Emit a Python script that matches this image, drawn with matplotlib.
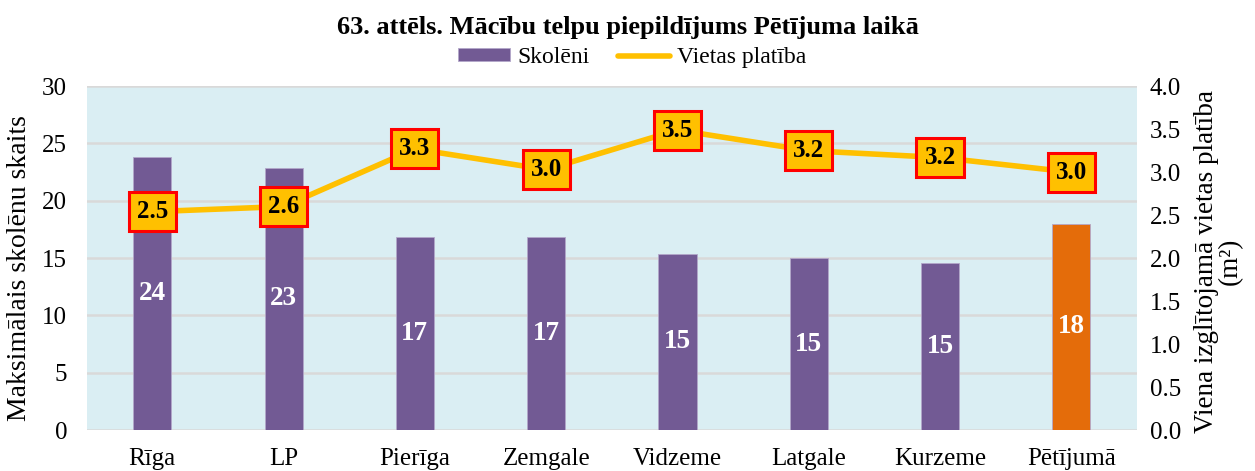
import matplotlib.pyplot as plt
import numpy as np

plt.rcParams["font.family"] = ["Liberation Serif", "DejaVu Serif"]

regioni = ["Rīga", "LP", "Pierīga", "Zemgale", "Vidzeme", "Latgale", "Kurzeme", "Pētījumā"]
skoleni = [23.8, 22.9, 16.8, 16.8, 15.4, 15.0, 14.6, 18.0]
platiba = [2.54, 2.6, 3.27, 3.03, 3.49, 3.25, 3.17, 3.0]

violets = "#725A94"
oranzs = "#E46C0A"
dzeltens = "#FFC000"

fig, ax = plt.subplots(figsize=(12.55, 4.71), dpi=100)
fig.subplots_adjust(left=0.069, right=0.906, top=0.817, bottom=0.087)

x = np.arange(len(regioni))
krasas = [violets] * (len(regioni) - 1) + [oranzs]
stabi = ax.bar(x, skoleni, width=0.29, color=krasas, edgecolor="#B3A7C9",
               linewidth=0.6, zorder=3, label="Skolēni")

# skolēnu skaits stabiņa vidū
for xi, v in zip(x, skoleni):
    ax.text(xi, v / 2, f"{v:.0f}", ha="center", va="center", color="white",
            fontsize=19.5, fontweight="bold", zorder=4)

ax.set_facecolor("#DAEEF3")
ax.set_xlim(-0.5, len(regioni) - 0.5)
ax.set_ylim(0, 30)
ax.set_yticks(range(0, 31, 5))
ax.set_xticks(x)
ax.set_xticklabels(regioni, fontsize=18)
ax.tick_params(axis="y", labelsize=18, length=0, pad=14)
ax.tick_params(axis="x", length=0, pad=13)
ax.grid(axis="y", color="#D9D9D9", linewidth=1.8, zorder=0)
for s in ax.spines.values():
    s.set_visible(False)
ax.set_ylabel("Maksimālais skolēnu skaits", fontsize=20)
ax.yaxis.set_label_coords(-0.052, 0.47)

ax2 = ax.twinx()
linija, = ax2.plot(x, platiba, color=dzeltens, linewidth=4, zorder=5,
                   label="Vietas platība", solid_capstyle="round")
ax2.set_ylim(0, 4)
ax2.set_yticks(np.arange(0, 4.01, 0.5))
ax2.set_yticklabels([f"{t:.1f}" for t in np.arange(0, 4.01, 0.5)])
ax2.tick_params(axis="y", labelsize=18, length=0, pad=9)
for s in ax2.spines.values():
    s.set_visible(False)
ax2.set_ylabel("Viena izglītojamā vietas platība\n(m²)", fontsize=19.5,
               linespacing=0.95)
ax2.yaxis.set_label_coords(1.054, 0.49)

# platības vērtības dzeltenos rāmjos
for xi, v in zip(x, platiba):
    ax2.text(xi, v, f"{v:.1f}", ha="center", va="center", fontsize=18,
             fontweight="bold", zorder=6,
             bbox=dict(boxstyle="square,pad=0.32", facecolor=dzeltens,
                       edgecolor="red", linewidth=2.2))

fig.suptitle("63. attēls. Mācību telpu piepildījums Pētījuma laikā",
             fontsize=19, fontweight="bold", y=0.965)
fig.legend([stabi, linija], ["Skolēni", "Vietas platība"], loc="upper center",
           bbox_to_anchor=(0.5035, 0.925), ncol=2, frameon=False, fontsize=17,
           handlelength=2.2, handleheight=0.5, columnspacing=1.2,
           handletextpad=0.3, borderpad=0)

fig.savefig("out.png", dpi=100)
